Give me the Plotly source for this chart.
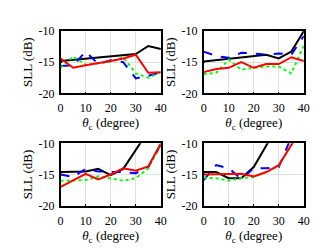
import plotly.graph_objects as go

theta = [0, 5, 10, 15, 20, 25, 30, 35, 40]

# Panel (a) top-left
a_black = [-14.8, -14.6, -14.4, -14.3, -14.1, -13.9, -13.7, -12.4, -12.9]
a_blue = [-15.6, -15.5, -13.3, -15.3, -14.7, -15.0, -17.6, -17.2, -16.6]
a_green = [-15.9, -14.1, -15.4, -15.2, -14.9, -14.2, -16.8, -17.5, -16.6]
a_red = [-14.4, -15.9, -15.5, -15.2, -14.8, -14.4, -13.8, -16.7, -16.6]

# Panel (b) top-right
b_black = [-14.9, -14.7, -14.5, -14.3, -14.1, -13.8, -14.4, -13.3, -10.0]
b_blue = [-13.3, -14.0, -14.3, -13.5, -13.6, -13.8, -13.6, -13.8, -10.8]
b_green = [-16.9, -16.7, -14.6, -16.2, -15.9, -15.7, -15.7, -16.8, -12.3]
b_red = [-16.6, -16.1, -15.9, -15.0, -15.9, -15.3, -15.3, -14.2, -14.8]

# Panel (c) bottom-left
c_black = [-14.6, -14.6, -14.5, -14.1, -15.1, -14.1, -11.2, -8.0, -5.0]
c_blue = [-15.0, -15.4, -14.1, -14.5, -14.6, -14.6, -14.8, -13.8, -10.2]
c_green = [-16.0, -16.0, -15.9, -15.3, -15.6, -16.0, -15.6, -14.0, -10.2]
c_red = [-17.0, -15.9, -14.9, -15.8, -15.0, -14.0, -14.4, -13.7, -10.0]

# Panel (d) bottom-right
d_black = [-14.6, -14.6, -15.6, -15.6, -13.8, -10.1, -6.0, -2.0, 0.0]
d_blue = [-15.9, -13.5, -14.0, -15.7, -14.0, -14.0, -13.8, -9.0, -6.0]
d_green = [-15.5, -15.6, -16.0, -15.6, -15.4, -14.6, -13.6, -10.6, -7.0]
d_red = [-15.0, -15.0, -14.9, -14.9, -15.3, -14.6, -13.5, -10.4, -7.0]

x_ticks = [0, 10, 20, 30, 40]
y_ticks = [-20, -15, -10]
y_ticktext = ["-20", "-15", "-10"]

panels = [
    (a_black, a_blue, a_green, a_red),
    (b_black, b_blue, b_green, b_red),
    (c_black, c_blue, c_green, c_red),
    (d_black, d_blue, d_green, d_red),
]

W, H = 332, 249
xdoms = [(51 / W, 154 / W), (198 / W, 301 / W), (51 / W, 154 / W), (198 / W, 301 / W)]
ydoms = [(1 - 83 / H, 1 - 17 / H), (1 - 83 / H, 1 - 17 / H),
         (1 - 202 / H, 1 - 136 / H), (1 - 202 / H, 1 - 136 / H)]

FONT = "Liberation Serif"
fig = go.Figure()
styles = [
    dict(color="#000000", width=2, dash="solid"),
    dict(color="#0000ff", width=2, dash="dash"),
    dict(color="#00ff00", width=2, dash="dot"),
    dict(color="#ff0000", width=2, dash="solid"),
]

layout = {}
for i, series in enumerate(panels):
    n = "" if i == 0 else str(i + 1)
    for s, st in zip(series, styles):
        fig.add_trace(go.Scatter(x=theta, y=s, mode="lines", line=st,
                                 xaxis="x" + n, yaxis="y" + n, showlegend=False,
                                 cliponaxis=True))
    layout["xaxis" + n] = dict(
        domain=xdoms[i], anchor="y" + n, range=[0, 40], tickvals=x_ticks,
        showline=True, mirror=True, linecolor="black", linewidth=1.5,
        showgrid=True, gridcolor="#e0e0e0", gridwidth=1, zeroline=False,
        ticks="inside", ticklen=2, tickcolor="black", ticklabelstandoff=3,
        tickfont=dict(family=FONT, size=12, color="black"),
        title=dict(text="<i>θ</i><sub>c</sub> (degree)", standoff=1,
                   font=dict(family=FONT, size=13, color="black")),
    )
    layout["yaxis" + n] = dict(
        domain=ydoms[i], anchor="x" + n, range=[-20, -10], tickvals=y_ticks,
        ticktext=y_ticktext,
        showline=True, mirror=True, linecolor="black", linewidth=1.5,
        showgrid=True, gridcolor="#e0e0e0", gridwidth=1, zeroline=False,
        ticks="inside", ticklen=2, tickcolor="black", ticklabelstandoff=2,
        tickfont=dict(family=FONT, size=12, color="black"),
        title=dict(text="SLL (dB)", standoff=3,
                   font=dict(family=FONT, size=13, color="black")),
    )

fig.update_layout(
    width=W, height=H, margin=dict(l=0, r=0, t=0, b=0),
    paper_bgcolor="white", plot_bgcolor="white",
    font=dict(family=FONT, size=12, color="black"),
    **layout,
)
fig.write_html("out.html")
